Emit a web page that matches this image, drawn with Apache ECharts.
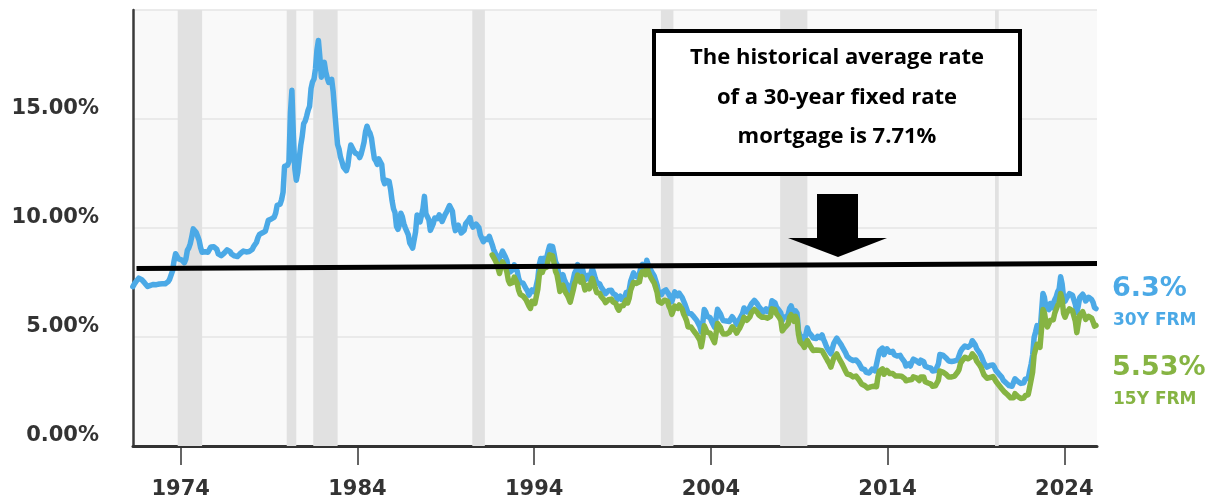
<!DOCTYPE html>
<html>
<head>
<meta charset="utf-8">
<title>30-year vs 15-year fixed mortgage rates</title>
<script src="https://cdn.jsdelivr.net/npm/echarts@6/dist/echarts.min.js"></script>
<style>
  html, body { margin: 0; padding: 0; background: #fff; }
  #chart { width: 1217px; height: 501px; }
</style>
</head>
<body>
<div id="chart"></div>
<script>
'use strict';

// 30Y FRM, monthly averages, starting April 1971
const fixed30_1970s = [
  7.31, 7.43, 7.53, 7.60, 7.70, 7.69, 7.63, 7.55, 7.48,
  7.44, 7.32, 7.29, 7.37, 7.41, 7.41, 7.43, 7.40, 7.42, 7.43, 7.44, 7.44,
  7.44, 7.44, 7.46, 7.54, 7.65, 7.73, 8.05, 8.50, 8.82, 8.77, 8.58, 8.54,
  8.54, 8.46, 8.41, 8.58, 8.97, 9.09, 9.28, 9.59, 9.96, 9.98, 9.79, 9.62,
  9.43, 9.10, 8.89, 8.82, 8.91, 8.89, 8.89, 8.94, 9.13, 9.22, 9.14, 9.10,
  9.02, 8.81, 8.76, 8.73, 8.76, 8.85, 8.93, 9.00, 8.98, 8.92, 8.81, 8.79,
  8.72, 8.67, 8.69, 8.75, 8.83, 8.86, 8.94, 8.94, 8.90, 8.92, 8.92, 8.96,
  9.01, 9.15, 9.20, 9.35, 9.57, 9.71, 9.74, 9.78, 9.76, 9.86, 10.11, 10.35,
  10.39, 10.41, 10.43, 10.50, 10.69, 11.04, 11.09, 11.09, 11.30, 11.64, 12.83, 12.90
];
const fixed30_1980s = [
  12.88, 13.04, 15.28, 16.32, 14.26, 12.71, 12.19, 12.56, 13.20, 13.79, 14.21, 14.79,
  14.90, 15.13, 15.40, 15.58, 16.40, 16.70, 16.83, 17.29, 18.16, 18.60, 17.83, 16.92,
  17.40, 17.60, 17.16, 16.89, 16.68, 16.70, 16.82, 16.27, 15.43, 14.61, 13.83, 13.62,
  13.25, 13.04, 12.80, 12.78, 12.63, 12.87, 13.42, 13.81, 13.73, 13.54, 13.44, 13.42,
  13.37, 13.23, 13.39, 13.65, 13.94, 14.42, 14.67, 14.47, 14.35, 14.13, 13.64, 13.18,
  13.08, 12.92, 13.17, 13.20, 12.91, 12.22, 12.03, 12.19, 12.19, 12.14, 11.78, 11.26,
  10.88, 10.71, 10.08, 9.94, 10.14, 10.68, 10.51, 10.20, 10.01, 9.98, 9.70, 9.32,
  9.20, 9.08, 9.04, 9.83, 10.60, 10.54, 10.28, 10.33, 10.89, 11.45, 10.65, 10.64,
  10.38, 9.89, 9.93, 10.20, 10.46, 10.46, 10.43, 10.60, 10.48, 10.30, 10.27, 10.61,
  10.73, 10.65, 11.03, 11.05, 10.77, 10.20, 9.88, 9.99, 10.13, 9.95, 9.77, 9.74
];
const fixed30_1990s = [
  9.90, 10.20, 10.27, 10.37, 10.48, 10.16, 10.04, 10.10, 10.18, 10.18, 10.01, 9.67,
  9.64, 9.37, 9.50, 9.49, 9.47, 9.62, 9.58, 9.24, 9.01, 8.86, 8.71, 8.50,
  8.43, 8.76, 8.94, 8.85, 8.67, 8.51, 8.13, 7.98, 7.92, 8.09, 8.31, 8.22,
  8.02, 7.68, 7.50, 7.47, 7.47, 7.42, 7.21, 7.11, 6.92, 6.83, 7.16, 7.17,
  7.06, 7.15, 7.68, 8.32, 8.60, 8.40, 8.61, 8.51, 8.64, 8.93, 9.17, 9.25,
  9.15, 8.83, 8.46, 8.32, 7.96, 7.57, 7.61, 7.86, 7.64, 7.48, 7.38, 7.20,
  7.03, 7.08, 7.62, 7.93, 8.07, 8.32, 8.25, 8.00, 8.23, 7.92, 7.62, 7.60,
  7.82, 7.65, 7.90, 8.14, 7.94, 7.69, 7.50, 7.48, 7.43, 7.29, 7.21, 7.10,
  6.99, 7.04, 7.13, 7.14, 7.14, 7.00, 6.95, 6.92, 6.72, 6.71, 6.87, 6.72,
  6.79, 6.81, 7.04, 6.92, 7.15, 7.55, 7.63, 7.94, 7.82, 7.85, 7.74, 7.91
];
const fixed30_2000s = [
  8.21, 8.33, 8.24, 8.15, 8.52, 8.29, 8.15, 8.03, 7.91, 7.80, 7.75, 7.38,
  7.03, 7.05, 6.95, 7.08, 7.15, 7.16, 7.13, 6.95, 6.82, 6.62, 6.66, 7.07,
  7.00, 6.89, 7.01, 6.99, 6.81, 6.65, 6.49, 6.29, 6.09, 6.11, 6.07, 6.05,
  5.92, 5.84, 5.75, 5.81, 5.48, 5.23, 5.63, 6.26, 6.15, 5.95, 5.93, 5.88,
  5.71, 5.64, 5.45, 5.83, 6.27, 6.29, 6.06, 5.87, 5.75, 5.72, 5.73, 5.75,
  5.71, 5.63, 5.93, 5.86, 5.72, 5.58, 5.70, 5.82, 5.77, 6.07, 6.33, 6.27,
  6.15, 6.25, 6.32, 6.51, 6.60, 6.68, 6.76, 6.52, 6.40, 6.36, 6.24, 6.14,
  6.22, 6.29, 6.16, 6.18, 6.26, 6.66, 6.70, 6.57, 6.38, 6.38, 6.21, 6.10,
  5.76, 5.92, 5.97, 5.92, 6.04, 6.32, 6.43, 6.48, 6.04, 6.20, 6.09, 5.29,
  5.06, 5.13, 5.00, 4.81, 4.86, 5.42, 5.22, 5.19, 5.06, 4.95, 4.88, 4.93
];
const fixed30_2010s = [
  5.03, 4.99, 4.97, 5.10, 4.89, 4.74, 4.56, 4.43, 4.35, 4.23, 4.30, 4.71,
  4.76, 4.95, 4.84, 4.84, 4.64, 4.51, 4.55, 4.27, 4.11, 4.07, 3.99, 3.96,
  3.92, 3.89, 3.95, 3.91, 3.80, 3.68, 3.55, 3.60, 3.50, 3.38, 3.35, 3.35,
  3.41, 3.53, 3.57, 3.45, 3.54, 4.07, 4.37, 4.46, 4.49, 4.19, 4.26, 4.46,
  4.43, 4.30, 4.34, 4.34, 4.19, 4.16, 4.13, 4.12, 4.16, 4.04, 4.00, 3.86,
  3.67, 3.71, 3.77, 3.67, 3.84, 3.98, 4.05, 3.91, 3.89, 3.80, 3.94, 3.96,
  3.87, 3.66, 3.69, 3.61, 3.60, 3.57, 3.44, 3.44, 3.46, 3.47, 3.77, 4.20,
  4.15, 4.17, 4.20, 4.05, 4.01, 3.90, 3.97, 3.88, 3.81, 3.90, 3.92, 3.95,
  4.03, 4.33, 4.44, 4.47, 4.59, 4.57, 4.53, 4.55, 4.63, 4.83, 4.87, 4.64,
  4.46, 4.37, 4.27, 4.14, 4.07, 3.80, 3.77, 3.62, 3.61, 3.69, 3.70, 3.72
];
const fixed30_2020s = [
  3.62, 3.47, 3.45, 3.31, 3.23, 3.16, 3.02, 2.94, 2.89, 2.83, 2.77, 2.68,
  2.74, 2.81, 3.08, 3.06, 2.96, 2.98, 2.87, 2.84, 2.90, 3.07, 3.07, 3.10,
  3.45, 3.76, 4.17, 4.98, 5.23, 5.52, 5.41, 5.22, 6.11, 7.00, 6.81, 6.36,
  6.27, 6.26, 6.54, 6.34, 6.43, 6.71, 6.84, 7.07, 7.20, 7.76, 7.44, 6.82,
  6.64, 6.78, 6.82, 6.99, 7.06, 6.92, 6.85, 6.50, 6.12, 6.43, 6.81, 6.72,
  6.96, 6.84, 6.65, 6.73, 6.82, 6.82, 6.72, 6.59, 6.35, 6.30
];

// 15Y FRM, monthly averages, starting August 1991
const fixed15_1990s = [
  8.77, 8.72, 8.53, 8.38, 8.15,
  7.91, 8.24, 8.45, 8.38, 8.19, 7.97, 7.60, 7.45, 7.36, 7.50, 7.75, 7.67,
  7.46, 7.14, 6.96, 6.90, 6.88, 6.86, 6.71, 6.62, 6.42, 6.31, 6.64, 6.66,
  6.54, 6.62, 7.19, 7.85, 8.12, 7.96, 8.15, 8.08, 8.20, 8.52, 8.77, 8.79,
  8.72, 8.40, 8.01, 7.86, 7.50, 7.09, 7.13, 7.38, 7.17, 7.02, 6.92, 6.77,
  6.60, 6.62, 7.14, 7.45, 7.60, 7.84, 7.79, 7.52, 7.77, 7.45, 7.16, 7.15,
  7.37, 7.21, 7.47, 7.69, 7.47, 7.24, 7.04, 7.04, 7.00, 6.86, 6.79, 6.70,
  6.58, 6.64, 6.71, 6.72, 6.74, 6.61, 6.57, 6.53, 6.34, 6.23, 6.41, 6.35,
  6.44, 6.46, 6.69, 6.56, 6.77, 7.14, 7.21, 7.51, 7.43, 7.46, 7.38, 7.53
];
const fixed15_2000s = [
  7.87, 8.00, 7.91, 7.86, 8.21, 8.00, 7.82, 7.70, 7.58, 7.48, 7.41, 7.04,
  6.63, 6.64, 6.55, 6.62, 6.69, 6.68, 6.65, 6.42, 6.28, 6.04, 6.02, 6.42,
  6.41, 6.31, 6.47, 6.44, 6.27, 6.05, 5.91, 5.75, 5.46, 5.49, 5.46, 5.38,
  5.26, 5.18, 5.09, 5.11, 4.85, 4.55, 4.92, 5.52, 5.44, 5.21, 5.23, 5.18,
  5.02, 4.95, 4.74, 5.16, 5.62, 5.65, 5.44, 5.24, 5.14, 5.09, 5.14, 5.17,
  5.21, 5.17, 5.47, 5.42, 5.30, 5.18, 5.30, 5.40, 5.38, 5.69, 5.90, 5.86,
  5.77, 5.86, 5.93, 6.11, 6.18, 6.26, 6.33, 6.13, 6.02, 6.02, 5.91, 5.85,
  5.91, 5.99, 5.86, 5.88, 5.94, 6.29, 6.34, 6.25, 6.07, 6.06, 5.89, 5.76,
  5.28, 5.30, 5.46, 5.52, 5.60, 5.92, 6.02, 6.01, 5.72, 5.95, 5.80, 5.13,
  4.79, 4.75, 4.64, 4.52, 4.52, 4.84, 4.70, 4.62, 4.48, 4.38, 4.33, 4.40
];
const fixed15_2010s = [
  4.43, 4.39, 4.30, 4.37, 4.25, 4.17, 4.01, 3.88, 3.77, 3.62, 3.63, 4.05,
  4.09, 4.22, 4.08, 4.05, 3.84, 3.71, 3.69, 3.43, 3.30, 3.32, 3.27, 3.23,
  3.17, 3.14, 3.21, 3.14, 3.04, 2.97, 2.83, 2.86, 2.77, 2.68, 2.66, 2.65,
  2.71, 2.75, 2.74, 2.65, 2.72, 3.19, 3.43, 3.50, 3.54, 3.29, 3.31, 3.47,
  3.45, 3.32, 3.32, 3.32, 3.23, 3.21, 3.23, 3.21, 3.27, 3.20, 3.17, 3.10,
  2.99, 2.97, 3.03, 2.94, 3.05, 3.17, 3.23, 3.13, 3.09, 3.00, 3.17, 3.21,
  3.17, 2.95, 2.98, 2.89, 2.85, 2.84, 2.74, 2.75, 2.76, 2.76, 3.02, 3.44,
  3.41, 3.39, 3.43, 3.30, 3.27, 3.17, 3.26, 3.17, 3.12, 3.21, 3.28, 3.38,
  3.50, 3.79, 3.90, 3.94, 4.07, 4.04, 4.00, 4.03, 4.08, 4.23, 4.29, 4.07,
  3.89, 3.81, 3.71, 3.60, 3.56, 3.26, 3.22, 3.11, 3.09, 3.14, 3.15, 3.19
];
const fixed15_2020s = [
  3.09, 2.97, 2.95, 2.80, 2.72, 2.63, 2.54, 2.47, 2.40, 2.35, 2.30, 2.21,
  2.21, 2.21, 2.40, 2.35, 2.27, 2.26, 2.18, 2.16, 2.20, 2.31, 2.34, 2.36,
  2.70, 3.04, 3.40, 4.17, 4.43, 4.67, 4.60, 4.53, 5.33, 6.26, 6.12, 5.67,
  5.46, 5.40, 5.76, 5.70, 5.79, 6.09, 6.17, 6.45, 6.56, 7.00, 6.73, 6.08,
  5.91, 6.09, 6.16, 6.29, 6.34, 6.20, 6.12, 5.72, 5.20, 5.63, 6.00, 5.92,
  6.16, 6.00, 5.81, 5.88, 5.95, 5.96, 5.87, 5.70, 5.50, 5.53
];

// recessions (decimal years)
const recessionStarts = [1973.83, 1980.0, 1981.5, 1990.5, 2001.17, 2007.92, 2020.08];
const recessionEnds   = [1975.21, 1980.54, 1982.88, 1991.21, 2001.88, 2009.46, 2020.29];

// axis labels
const tickYears = [1974, 1984, 1994, 2004, 2014, 2024];
const yLabelValues = [0, 5, 10, 15];

// the drawn "historical average" line (slightly sloped in the original)
const avgLineStart = [1971.5, 8.14];
const avgLineEnd = [2025.85, 8.37];

const latest30 = '6.3%';
const latest15 = '5.53%';

const BLUE = '#4BA9E6';
const GREEN = '#86B443';
const AXIS_FONT = '"DejaVu Sans", sans-serif';

/**
 * monthly values -> [decimalYear, value]
 */
const toPoints = (values, startYear, startMonth) =>
  values.map((v, i) => [startYear + (startMonth - 1 + i + 0.5) / 12, v]);

const fixed30 = toPoints(
  [].concat(fixed30_1970s, fixed30_1980s, fixed30_1990s, fixed30_2000s, fixed30_2010s, fixed30_2020s),
  1971, 4
);
const fixed15 = toPoints(
  [].concat(fixed15_1990s, fixed15_2000s, fixed15_2010s, fixed15_2020s),
  1991, 8
);

const recessionAreas = recessionStarts.map((s, i) => [{ xAxis: s }, { xAxis: recessionEnds[i] }]);

const chart = echarts.init(document.getElementById('chart'), null, { renderer: 'canvas' });

chart.setOption({
  animation: false,
  backgroundColor: '#fff',
  grid: {
    left: 133, right: 120, top: 10, bottom: 55,
    show: true, backgroundColor: '#f9f9f9', borderWidth: 0
  },
  xAxis: {
    type: 'value',
    min: 1971.3,
    max: 2025.85,
    axisLine: { lineStyle: { color: '#333', width: 3 } },
    axisTick: { customValues: tickYears, length: 19, lineStyle: { color: '#333', width: 1.5 } },
    axisLabel: {
      customValues: tickYears,
      formatter: v => String(v),
      fontFamily: AXIS_FONT, fontWeight: 'bold', fontSize: 21, color: '#333',
      margin: 33
    },
    splitLine: { show: false }
  },
  yAxis: {
    type: 'value',
    min: 0, max: 20, interval: 5,
    axisLine: { show: true, lineStyle: { color: '#3a3a3a', width: 2.5 } },
    axisTick: { show: false },
    axisLabel: {
      customValues: yLabelValues,
      formatter: v => v.toFixed(2) + '%',
      fontFamily: AXIS_FONT, fontWeight: 'bold', fontSize: 21, color: '#333',
      margin: 34, verticalAlign: 'bottom'
    },
    splitLine: { lineStyle: { color: '#e4e4e4', width: 1.5 } }
  },
  series: [
    {
      name: '30Y FRM',
      type: 'line',
      data: fixed30,
      showSymbol: false,
      clip: true,
      lineStyle: { color: BLUE, width: 5.5, join: 'round', cap: 'round' },
      itemStyle: { color: BLUE },
      markArea: {
        silent: true,
        itemStyle: { color: '#e1e1e1' },
        data: recessionAreas
      },
      markLine: {
        silent: true,
        symbol: 'none',
        label: { show: false },
        lineStyle: { color: '#000', width: 5, type: 'solid' },
        data: [[{ coord: avgLineStart }, { coord: avgLineEnd }]]
      }
    },
    {
      name: '15Y FRM',
      type: 'line',
      data: fixed15,
      showSymbol: false,
      clip: true,
      lineStyle: { color: GREEN, width: 5.5, join: 'round', cap: 'round' },
      itemStyle: { color: GREEN }
    }
  ],
  graphic: [
    {
      type: 'rect', z: 20,
      shape: { x: 654, y: 31, width: 366, height: 143 },
      style: { fill: '#fff', stroke: '#000', lineWidth: 4 }
    },
    {
      type: 'text', z: 21, x: 837, y: 97.5,
      style: {
        text: 'The historical average rate\nof a 30-year fixed rate\nmortgage is 7.71%',
        font: 'bold 22px "Open Sans", sans-serif', lineHeight: 39.5,
        align: 'center', verticalAlign: 'middle', fill: '#000'
      }
    },
    {
      type: 'polygon', z: 20,
      shape: { points: [[817, 194], [858, 194], [858, 238], [887, 238], [838, 257], [788, 238], [817, 238]] },
      style: { fill: '#000' }
    },
    {
      type: 'text', z: 20, x: 1112, y: 289,
      style: { text: latest30, font: 'bold 27px ' + AXIS_FONT, fill: BLUE, align: 'left', verticalAlign: 'middle' }
    },
    {
      type: 'text', z: 20, x: 1113, y: 321,
      style: { text: '30Y FRM', font: 'bold 17px ' + AXIS_FONT, fill: BLUE, align: 'left', verticalAlign: 'middle' }
    },
    {
      type: 'text', z: 20, x: 1112, y: 368,
      style: { text: latest15, font: 'bold 27px ' + AXIS_FONT, fill: GREEN, align: 'left', verticalAlign: 'middle' }
    },
    {
      type: 'text', z: 20, x: 1113, y: 400,
      style: { text: '15Y FRM', font: 'bold 17px ' + AXIS_FONT, fill: GREEN, align: 'left', verticalAlign: 'middle' }
    }
  ]
});
</script>
</body>
</html>
